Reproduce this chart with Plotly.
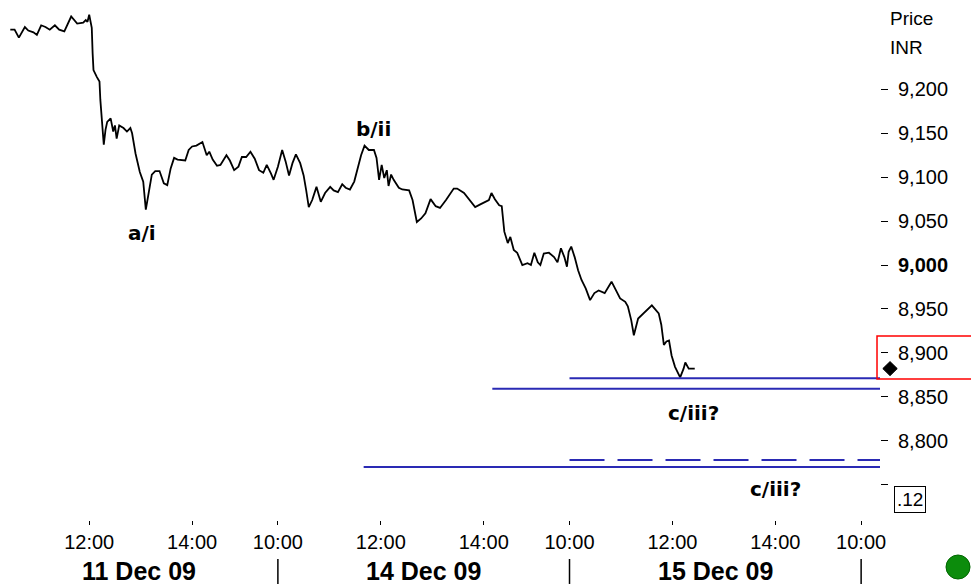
import plotly.graph_objects as go

# ---------------- data ----------------
day_labels = ["11 Dec 09", "14 Dec 09", "15 Dec 09"]

dec11_times = ["10:28","10:33","10:38","10:42","10:45","10:49","10:55","10:59","11:04","11:09","11:14","11:20","11:25","11:31","11:39","11:46","11:53","11:56","11:58","12:00","12:03","12:04","12:05","12:09","12:12","12:13","12:15","12:17","12:19","12:21","12:25","12:28","12:30","12:32","12:35","12:40","12:44","12:48","12:50","12:54","12:59","13:03","13:06","13:09","13:13","13:17","13:22","13:27","13:31","13:35","13:39","13:43","13:52","13:56","14:00","14:05","14:08","14:12","14:17","14:20","14:24","14:29","14:33","14:40","14:44","14:49","14:54","14:58","15:03","15:08","15:13","15:18","15:23","15:27","15:32","15:35"]
dec11_prices = [9268,9268,9259,9266,9271,9267,9265,9262,9273,9271,9268,9273,9268,9266,9283,9275,9276,9279,9277,9285,9270,9241,9222,9214,9209,9188,9156,9137,9154,9163,9167,9152,9159,9144,9159,9156,9152,9156,9150,9127,9106,9095,9063,9082,9103,9107,9107,9093,9091,9110,9122,9120,9119,9131,9135,9136,9138,9140,9125,9129,9120,9113,9114,9125,9119,9108,9112,9123,9123,9129,9121,9108,9105,9114,9104,9097]

dec14_times = ["10:00","10:05","10:09","10:13","10:17","10:21","10:26","10:30","10:33","10:36","10:40","10:45","10:50","10:55","11:01","11:05","11:10","11:15","11:19","11:24","11:29","11:33","11:37","11:41","11:46","11:52","11:55","11:58","12:01","12:04","12:07","12:09","12:12","12:15","12:21","12:25","12:33","12:37","12:42","12:47","12:52","12:58","13:04","13:09","13:16","13:25","13:29","13:37","13:43","13:50","13:56","14:02","14:06","14:09","14:13","14:18","14:21","14:24","14:28","14:31","14:35","14:39","14:45","14:51","14:55","14:59","15:03","15:06","15:10","15:16","15:22","15:26","15:30","15:34","15:37","15:39"]
dec14_prices = [9112,9131,9118,9102,9116,9126,9116,9102,9085,9066,9074,9089,9072,9082,9089,9085,9083,9092,9088,9086,9095,9110,9125,9136,9131,9131,9122,9097,9114,9099,9108,9090,9103,9097,9088,9086,9085,9074,9049,9053,9059,9075,9067,9065,9074,9087,9087,9082,9074,9066,9069,9072,9074,9082,9075,9068,9067,9038,9025,9032,9017,9014,9000,9002,9000,9014,9003,9000,9013,9014,9009,9003,9019,9009,8998,9015]

dec15_times = ["10:02","10:06","10:10","10:14","10:19","10:24","10:29","10:34","10:41","10:49","10:53","10:59","11:05","11:08","11:12","11:15","11:20","11:24","11:30","11:36","11:44","11:47","11:50","11:53","11:56","11:59","12:03","12:09","12:13","12:15","12:19","12:26"]
dec15_prices = [9021,9009,8994,8983,8973,8960,8968,8971,8968,8981,8973,8962,8958,8953,8937,8920,8939,8943,8949,8954,8945,8932,8909,8913,8914,8897,8884,8872,8882,8889,8882,8882]

# horizontal target levels: (day index, start time, price, dash)
level_days   = [2, 1, 2, 1]
level_starts = ["10:00", "14:10", "10:00", "11:40"]
level_prices = [8871, 8859, 8778, 8770]
level_dash   = ["solid", "solid", "35px,13px", "solid"]

# wave labels
wave_text   = ["a/i", "b/ii", "c/iii?", "c/iii?"]
wave_days   = [0, 1, 2, 2]
wave_times  = ["13:02", "11:51", "12:24", "14:00"]
wave_prices = [9036, 9155, 8831, 8745]

# axis ticks
time_tick_days   = [0, 0, 1, 1, 1, 2, 2, 2, 3]
time_tick_labels = ["12:00", "14:00", "10:00", "12:00", "14:00", "10:00", "12:00", "14:00", "10:00"]
price_ticks = [8750, 8800, 8850, 8900, 8950, 9000, 9050, 9100, 9150, 9200]
price_tick_text = ["", "8,800", "8,850", "8,900", "8,950", "<b>9,000</b>", "9,050", "9,100", "9,150", "9,200"]
box_label = ".12"

SESSION = 5 + 40 / 60  # trading session length in hours (10:00 - 15:40)


def to_x(day_idx, hhmm):
    h, m = map(int, hhmm.split(":"))
    return day_idx * SESSION + (h + m / 60 - 10)


X_RANGE = [to_x(0, "10:16"), to_x(3, "10:22")]
Y_RANGE = [8709.6, 9301.8]

FONT = "Liberation Sans, Arial, sans-serif"
BLUE = "#2a2ab4"

fig = go.Figure()

# price line
xs, ys = [], []
for d, (ts, ps) in enumerate([(dec11_times, dec11_prices), (dec14_times, dec14_prices), (dec15_times, dec15_prices)]):
    xs += [to_x(d, t) for t in ts]
    ys += ps
fig.add_trace(go.Scatter(x=xs, y=ys, mode="lines", line=dict(color="black", width=1.8),
                         hoverinfo="skip", showlegend=False, cliponaxis=False))

# level lines
for d, t, p, ds in zip(level_days, level_starts, level_prices, level_dash):
    fig.add_trace(go.Scatter(x=[to_x(d, t), X_RANGE[1]], y=[p, p], mode="lines",
                             line=dict(color=BLUE, width=2, dash=ds),
                             hoverinfo="skip", showlegend=False))

annotations = []
for txt, d, t, p in zip(wave_text, wave_days, wave_times, wave_prices):
    annotations.append(dict(x=to_x(d, t), y=p, xref="x", yref="y", text=f"<b>{txt}</b>",
                            showarrow=False, font=dict(family="DejaVu Sans", size=20, color="black")))

# date row
day_mids = [(X_RANGE[0] + SESSION) / 2, 1.5 * SESSION, 2.5 * SESSION]
for lab, xm in zip(day_labels, day_mids):
    annotations.append(dict(x=xm, y=-0.098, xref="x", yref="paper", text=f"<b>{lab}</b>",
                            showarrow=False, yanchor="middle",
                            font=dict(family=FONT, size=25, color="black")))

# Price / INR header
annotations.append(dict(x=1.009, y=0.965, xref="paper", yref="paper", text="Price", showarrow=False,
                        xanchor="left", yanchor="middle", font=dict(family=FONT, size=19, color="black")))
annotations.append(dict(x=1.009, y=0.908, xref="paper", yref="paper", text="INR", showarrow=False,
                        xanchor="left", yanchor="middle", font=dict(family=FONT, size=19, color="black")))
# .12 box
annotations.append(dict(x=1.034, y=0.0385, xref="paper", yref="paper", text=box_label, showarrow=False,
                        xanchor="center", yanchor="middle", bordercolor="black", borderwidth=1, borderpad=2,
                        font=dict(family=FONT, size=19, color="black")))

shapes = []
for k in (1, 2, 3):
    shapes.append(dict(type="line", xref="x", yref="paper", x0=k * SESSION, x1=k * SESSION,
                       y0=-0.075, y1=-0.123, line=dict(color="black", width=1.5)))
# red box around last price
shapes.append(dict(type="rect", xref="paper", yref="paper", x0=0.9966, x1=1.12, y0=0.271, y1=0.3538,
                   line=dict(color="#ff0000", width=1.5)))
# last-price diamond on the price axis
last = dec15_prices[-1]
dx, dy = 0.0082, 8.0
cx = 1.0114
shapes.append(dict(type="path", xref="paper", yref="y",
                   path=f"M {cx},{last + dy} L {cx + dx},{last} L {cx},{last - dy} L {cx - dx},{last} Z",
                   fillcolor="black", line=dict(color="black", width=1)))
# green status dot
shapes.append(dict(type="circle", xref="paper", yref="paper", x0=1.0750, x1=1.1023, y0=-0.0673, y1=-0.1135,
                   fillcolor="#0c8c0c", line=dict(color="#006600", width=1)))

fig.update_layout(
    width=971, height=588,
    margin=dict(l=0, r=91, t=0, b=68),
    paper_bgcolor="white", plot_bgcolor="white",
    showlegend=False,
    annotations=annotations, shapes=shapes,
    xaxis=dict(range=X_RANGE, showgrid=False, zeroline=False, showline=False,
               tickvals=[to_x(d, t) for d, t in zip(time_tick_days, time_tick_labels)],
               ticktext=time_tick_labels, ticks="outside", ticklen=4, tickcolor="black", tickwidth=1,
               ticklabelstandoff=0,
               tickfont=dict(family=FONT, size=20, color="black")),
    yaxis=dict(range=Y_RANGE, side="right", showgrid=False, zeroline=False, showline=False,
               tickvals=price_ticks, ticktext=price_tick_text, ticks="outside", ticklen=7,
               tickcolor="black", tickwidth=1, ticklabelstandoff=6,
               tickfont=dict(family=FONT, size=20, color="black")),
)

fig.write_html("out.html", config={"displayModeBar": False},
               post_script="document.body.style.margin='0';document.body.style.overflow='hidden';")
